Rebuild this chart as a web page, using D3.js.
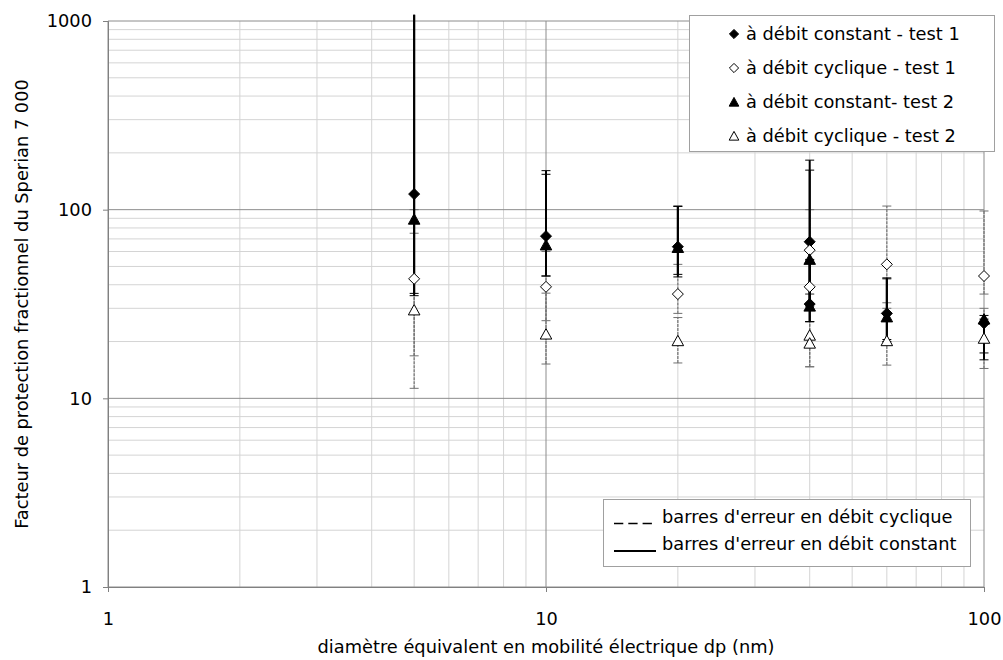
<!DOCTYPE html>
<html><head><meta charset="utf-8">
<script src="https://cdn.jsdelivr.net/npm/d3@7"></script>
<style>body{margin:0;background:#fff} text{font-family:"DejaVu Sans",sans-serif;fill:#000}</style>
</head><body><svg id="c" width="1003" height="660"></svg>
<script>
// x positions (nm)
const diameters = [5, 10, 20, 40, 40, 60, 100];
// à débit constant - test 1
const constT1 = [121, 72.4, 63.6, 67.6, 31.6, 28.2, 25];
const constT1Lo = [35, 44.5, 44, 31.6, 25.5, 20, 16.0];
const constT1Hi = [1080, 161, 104.5, 183, 54.5, 43.5, 26.3];
// à débit cyclique - test 1
const cycT1 = [43, 39, 35.7, 61, 39, 51.3, 44.5];
const cycT1Lo = [16.8, 25.8, 28.2, 35.7, 25.5, 30, 35.7];
const cycT1Hi = [100, 60, 51.3, 100, 61, 104.5, 98.4];
// à débit constant- test 2
const constT2 = [89, 65, 63, 54.5, 30.8, 27, 26.3];
const constT2Lo = [36, 44.5, 45.4, 30.8, 25.5, 20.5, 17.4];
const constT2Hi = [1080, 154, 104, 162, 54, 43, 27.5];
// à débit cyclique - test 2
const cycT2 = [29.4, 21.9, 20.2, 21.6, 19.6, 20.2, 20.8];
const cycT2Lo = [11.3, 15.2, 15.4, 14.7, 14.7, 15, 14.4];
const cycT2Hi = [75, 36.1, 26.8, 35.7, 25.5, 32.1, 30];

const xTicks = [1, 10, 100];
const yTicks = [1, 10, 100, 1000];
const seriesNames = ["à débit constant - test 1", "à débit cyclique - test 1", "à débit constant- test 2", "à débit cyclique - test 2"];
const errNames = ["barres d'erreur en débit cyclique", "barres d'erreur en débit constant"];
const xTitle = "diamètre équivalent en mobilité électrique dp (nm)";
const yTitle = "Facteur de protection fractionnel du Sperian 7 000";

const svg = d3.select("#c");
const L = 108, R = 984, T = 21, B = 587;
const x = d3.scaleLog().domain([1, 100]).range([L, R]);
const y = d3.scaleLog().domain([1, 1000]).range([B, T]);
const FS = "17.8px";

// grid
const g = svg.append("g");
const minorX = [], minorY = [];
for (let d = 1; d <= 10; d *= 10) for (let k = 2; k <= 9; k++) minorX.push(k * d);
for (let d = 1; d <= 100; d *= 10) for (let k = 2; k <= 9; k++) minorY.push(k * d);
g.selectAll(".mx").data(minorX).join("line").attr("x1", d => x(d)).attr("x2", d => x(d)).attr("y1", T).attr("y2", B).attr("stroke", "#d4d4d4");
g.selectAll(".my").data(minorY).join("line").attr("y1", d => y(d)).attr("y2", d => y(d)).attr("x1", L).attr("x2", R).attr("stroke", "#d4d4d4");
g.selectAll(".Mx").data(xTicks).join("line").attr("x1", d => x(d)).attr("x2", d => x(d)).attr("y1", T).attr("y2", B).attr("stroke", "#8c8c8c");
g.selectAll(".My").data(yTicks).join("line").attr("y1", d => y(d)).attr("y2", d => y(d)).attr("x1", L).attr("x2", R).attr("stroke", "#8c8c8c");

// axes
const ax = svg.append("g").attr("transform", `translate(0,${B})`)
  .call(d3.axisBottom(x).tickValues(xTicks).tickFormat(d3.format("d")).tickSize(5).tickPadding(20));
const ay = svg.append("g").attr("transform", `translate(${L},0)`)
  .call(d3.axisLeft(y).tickValues(yTicks).tickFormat(d3.format("d")).tickSize(5).tickPadding(11));
[ax, ay].forEach(a => {
  a.select(".domain").attr("stroke", "#808080");
  a.selectAll(".tick line").attr("stroke", "#808080");
  a.selectAll("text").style("font-size", FS).attr("fill", "#000");
});
svg.append("text").attr("x", (L + R) / 2).attr("y", 653).attr("text-anchor", "middle").style("font-size", FS).text(xTitle);
svg.append("text").attr("transform", `translate(28,${(T + B) / 2}) rotate(-90)`).attr("text-anchor", "middle").style("font-size", FS).text(yTitle);

// error bars
function errBars(vals, lo, hi, constant) {
  const eg = svg.append("g");
  const col = constant ? "#000" : "#707070";
  const data = vals.map((v, i) => ({ x: diameters[i], lo: lo[i], hi: hi[i] }));
  eg.selectAll(".v").data(data).join("line")
    .attr("x1", d => x(d.x)).attr("x2", d => x(d.x)).attr("y1", d => y(d.lo)).attr("y2", d => y(d.hi))
    .attr("stroke", col).attr("stroke-width", constant ? 2 : 1.2).attr("stroke-dasharray", constant ? null : "3,1");
  const caps = [];
  data.forEach(d => { caps.push({ x: d.x, v: d.lo }); if (d.hi <= 1000) caps.push({ x: d.x, v: d.hi }); });
  eg.selectAll(".c").data(caps).join("line")
    .attr("x1", d => x(d.x) - 4.5).attr("x2", d => x(d.x) + 4.5).attr("y1", d => y(d.v)).attr("y2", d => y(d.v))
    .attr("stroke", col).attr("stroke-width", 1);
}
errBars(cycT1, cycT1Lo, cycT1Hi, false);
errBars(cycT2, cycT2Lo, cycT2Hi, false);
errBars(constT1, constT1Lo, constT1Hi, true);
errBars(constT2, constT2Lo, constT2Hi, true);

// markers
const diamond = s => `M0,${-s}L${s},0L0,${s}L${-s},0Z`;
const tri = s => `M0,${-s}L${s * 1.05},${s * 0.9}L${-s * 1.05},${s * 0.9}Z`;
const series = [
  { vals: constT1, shape: diamond, fill: "#000" },
  { vals: cycT1, shape: diamond, fill: "#fff" },
  { vals: constT2, shape: tri, fill: "#000" },
  { vals: cycT2, shape: tri, fill: "#fff" }
];
series.forEach(s => {
  svg.append("g").selectAll("path").data(s.vals).join("path")
    .attr("d", s.shape(5.5))
    .attr("transform", (v, i) => `translate(${x(diameters[i])},${y(v)})`)
    .attr("fill", s.fill).attr("stroke", "#000").attr("stroke-width", 1);
});

// legend 1
const lg = svg.append("g");
lg.append("rect").attr("x", 689.5).attr("y", 15.5).attr("width", 305).attr("height", 136).attr("fill", "#fff").attr("stroke", "#a0a0a0");
series.forEach((s, i) => {
  const cy = 34 + i * 34;
  lg.append("path").attr("d", s.shape(4.6)).attr("transform", `translate(734,${cy})`).attr("fill", s.fill).attr("stroke", "#000");
  lg.append("text").attr("x", 746).attr("y", cy).attr("dy", "0.35em").style("font-size", FS).text(seriesNames[i]);
});

// legend 2
const lg2 = svg.append("g");
lg2.append("rect").attr("x", 603.5).attr("y", 499.5).attr("width", 367).attr("height", 67).attr("fill", "#fff").attr("stroke", "#a0a0a0");
lg2.append("line").attr("x1", 614).attr("x2", 656).attr("y1", 523.5).attr("y2", 523.5).attr("stroke", "#000").attr("stroke-width", 1.3).attr("stroke-dasharray", "9.3,5");
lg2.append("line").attr("x1", 614).attr("x2", 656).attr("y1", 551).attr("y2", 551).attr("stroke", "#000").attr("stroke-width", 2);
errNames.forEach((t, i) => {
  lg2.append("text").attr("x", 662).attr("y", 517 + i * 27).attr("dy", "0.35em").style("font-size", FS).text(t);
});
</script></body></html>
